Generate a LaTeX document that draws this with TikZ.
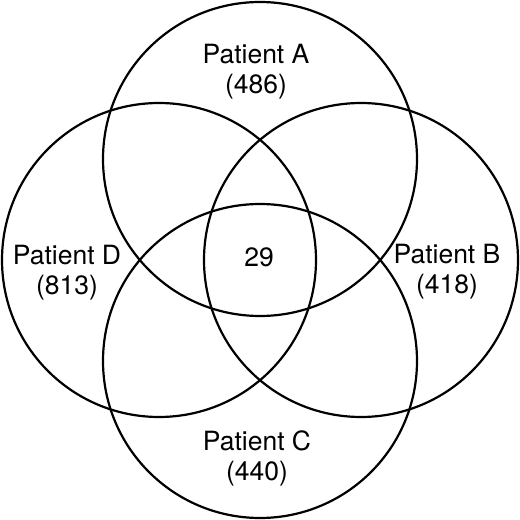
\documentclass[tikz,border=0pt]{standalone}
\usepackage{fontspec}
\setmainfont{TeX Gyre Heros}
\usepackage{tikz}
\usetikzlibrary{positioning}
\tikzset{
  setc/.style={draw=black,circle,line width=2.2pt,minimum size=314pt,inner sep=0pt},
  lbl/.style={align=center,inner sep=0pt,font=\fontsize{26.5}{30}\selectfont},
}
\begin{document}
\begin{tikzpicture}[x=1pt,y=1pt]
  \useasboundingbox (0,0) rectangle (520,520);
  \node[setc] (cA) at (260,361) {};
  \node[setc] (cD) at (159,260) {};
  \node[setc] (cB) at (361,260) {};
  \node[setc] (cC) at (260,159) {};

  \node[lbl] (lA) at (256,448) {Patient A\\(486)};
  \node[lbl] (lD) at (67,247)  {Patient D\\(813)};
  \node[lbl] (lB) at (447,248) {Patient B\\(418)};
  \node[lbl] (lC) at (257,62)  {Patient C\\(440)};
  \node[lbl] (all) at (259,263) {29};
\end{tikzpicture}
\end{document}
